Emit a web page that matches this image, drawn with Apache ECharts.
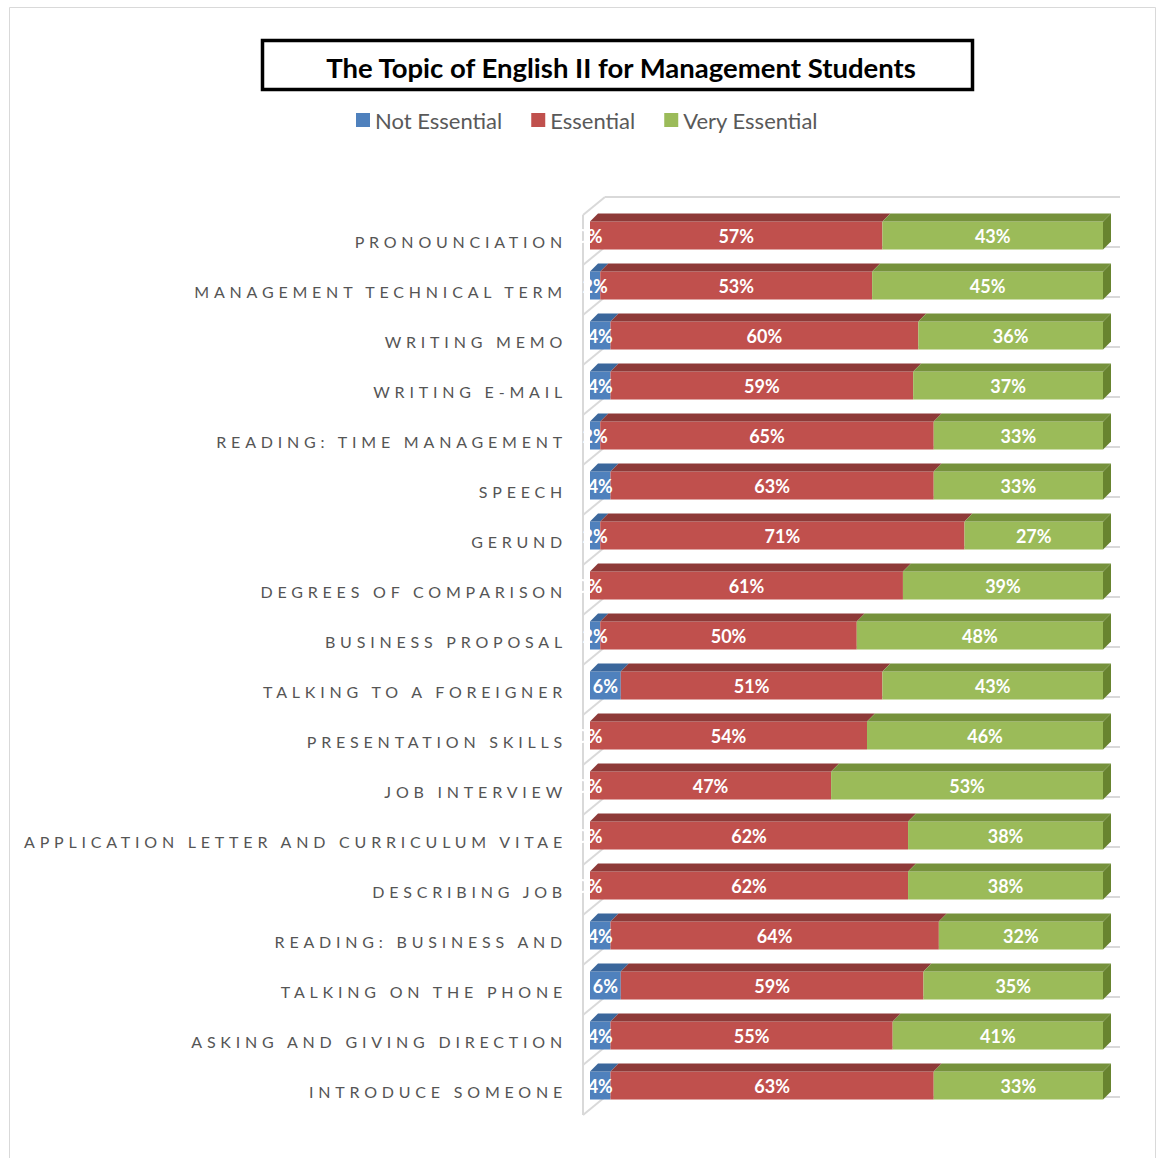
<!DOCTYPE html>
<html><head><meta charset="utf-8">
<script src="https://cdn.jsdelivr.net/npm/echarts@6/dist/echarts.min.js"></script>
<style>html,body{margin:0;padding:0;background:#fff}#c{width:1157px;height:1158px}</style>
</head><body><div id="c"></div>
<script>
const categories = ['PRONOUNCIATION','MANAGEMENT TECHNICAL TERM','WRITING MEMO','WRITING E-MAIL','READING: TIME MANAGEMENT','SPEECH','GERUND','DEGREES OF COMPARISON','BUSINESS PROPOSAL','TALKING TO A FOREIGNER','PRESENTATION SKILLS','JOB INTERVIEW','APPLICATION LETTER AND CURRICULUM VITAE','DESCRIBING JOB','READING: BUSINESS AND','TALKING ON THE PHONE','ASKING AND GIVING DIRECTION','INTRODUCE SOMEONE'];
const notEssential = [0,2,4,4,2,4,2,0,2,6,0,0,0,0,4,6,4,4];
const essential = [57,53,60,59,65,63,71,61,50,51,54,47,62,62,64,59,55,63];
const veryEssential = [43,45,36,37,33,33,27,39,48,43,46,53,38,38,32,35,41,33];
const seriesNames = ['Not Essential','Essential','Very Essential'];
const titleText = 'The Topic of English II for Management Students';

const frontColors = ['#4f81bd','#c0504d','#9bbb59'];
const topColors = ['#3b679c','#8e3a38','#76923c'];
const sideColor = '#68842f';
const wallColor = '#d9d9d9';
const FONT = 'Lato, "Open Sans", sans-serif';

const chart = echarts.init(document.getElementById('c'), null, {renderer: 'svg'});

const valueSets = [notEssential, essential, veryEssential];

function facesItem(params, api) {
  const i = api.value(0);
  const a = notEssential[i], b = a + essential[i], c = b + veryEssential[i];
  const p0 = api.coord([0, i]);
  const pa = api.coord([a, i]);
  const pb = api.coord([b, i]);
  const pc = api.coord([c, i]);
  const h = 14, d = 8;
  const yT = p0[1] - h, yB = p0[1] + h;
  const children = [];
  const segs = [[p0[0], pa[0], 0], [pa[0], pb[0], 1], [pb[0], pc[0], 2]];
  segs.forEach(s => {
    if (s[1] - s[0] < 0.5) return;
    children.push({type: 'polygon', shape: {points: [[s[0], yT], [s[0] + d, yT - d], [s[1] + d, yT - d], [s[1], yT]]},
      style: {fill: topColors[s[2]]}});
  });
  children.push({type: 'polygon', shape: {points: [[pc[0], yT], [pc[0] + d, yT - d], [pc[0] + d, yB - d], [pc[0], yB]]},
    style: {fill: sideColor}});
  return {type: 'group', children};
}

function wallItem(params, api) {
  const i = api.value(0);
  const p0 = api.coord([0, i]);
  const p100 = api.coord([100, i]);
  const step = api.size([0, 1])[1];
  const xf = p0[0] - 7, xb = p0[0] + 15, xr = p100[0] + 17, dy = 18;
  const bounds = [p0[1] - 20.5];
  if (i === categories.length - 1) bounds.push(p0[1] - 20.5 + step);
  const children = [];
  const st = {stroke: wallColor, lineWidth: 2, fill: null};
  children.push({type: 'line', shape: {x1: xf, y1: p0[1] - 20.5, x2: xf, y2: p0[1] - 20.5 + step}, style: st});
  bounds.forEach(y => {
    children.push({type: 'line', shape: {x1: xf, y1: y, x2: xb, y2: y - dy}, style: st});
    children.push({type: 'line', shape: {x1: xb, y1: y - dy, x2: xr, y2: y - dy}, style: st});
  });
  return {type: 'group', children};
}

const idx = categories.map((c, i) => i);

const barSeries = seriesNames.map((name, k) => ({
  name, type: 'bar', stack: 'total', barWidth: 28, z: 3,
  data: valueSets[k],
  itemStyle: {color: frontColors[k]},
  label: {show: true, position: 'inside', formatter: '{c}%', color: '#fff', fontFamily: FONT, fontWeight: 'bold', fontSize: 18},
  emphasis: {disabled: true}
}));

chart.setOption({
  animation: false,
  title: {text: titleText, left: 616, top: 48, textAlign: 'center',
    textStyle: {fontFamily: FONT, fontWeight: 'bold', fontSize: 27.5, color: '#000'}},
  legend: {data: seriesNames, left: 356, top: 109, padding: 0, icon: 'rect', itemWidth: 14, itemHeight: 14, itemGap: 29,
    textStyle: {fontFamily: FONT, fontSize: 22, color: '#595959'}},
  graphic: [
    {type: 'rect', shape: {x: 9.5, y: 7.5, width: 1146, height: 1170}, style: {fill: null, stroke: '#d9d9d9', lineWidth: 1}, z: -10},
    {type: 'rect', shape: {x: 262.5, y: 40.5, width: 710, height: 49}, style: {fill: null, stroke: '#000', lineWidth: 3.5}, z: 10}
  ],
  grid: {left: 590, right: 54, top: 210.5, bottom: 47.5, containLabel: false},
  xAxis: {type: 'value', min: 0, max: 100, show: false},
  yAxis: {type: 'category', data: categories, inverse: true,
    axisLine: {show: false}, axisTick: {show: false}, splitLine: {show: false},
    axisLabel: {margin: 23, color: '#555555', fontFamily: FONT, fontSize: 16}},
  series: [
    {type: 'custom', name: 'wall', renderItem: wallItem, data: idx, z: 1, silent: true, encode: {x: -1, y: 0}},
    ...barSeries,
    {type: 'custom', name: 'faces', renderItem: facesItem, data: idx, z: 4, silent: true, encode: {x: -1, y: 0}}
  ]
});

function applySpacing() {
  const set = new Set(categories);
  document.querySelectorAll('#c svg text').forEach(t => {
    if (set.has(t.textContent.trim())) {
      t.setAttribute('letter-spacing', '4.8');
      t.setAttribute('dy', '6');
    }
  });
}
applySpacing();
chart.on('finished', applySpacing);
setTimeout(applySpacing, 30);
setTimeout(applySpacing, 300);
</script>
</body></html>
